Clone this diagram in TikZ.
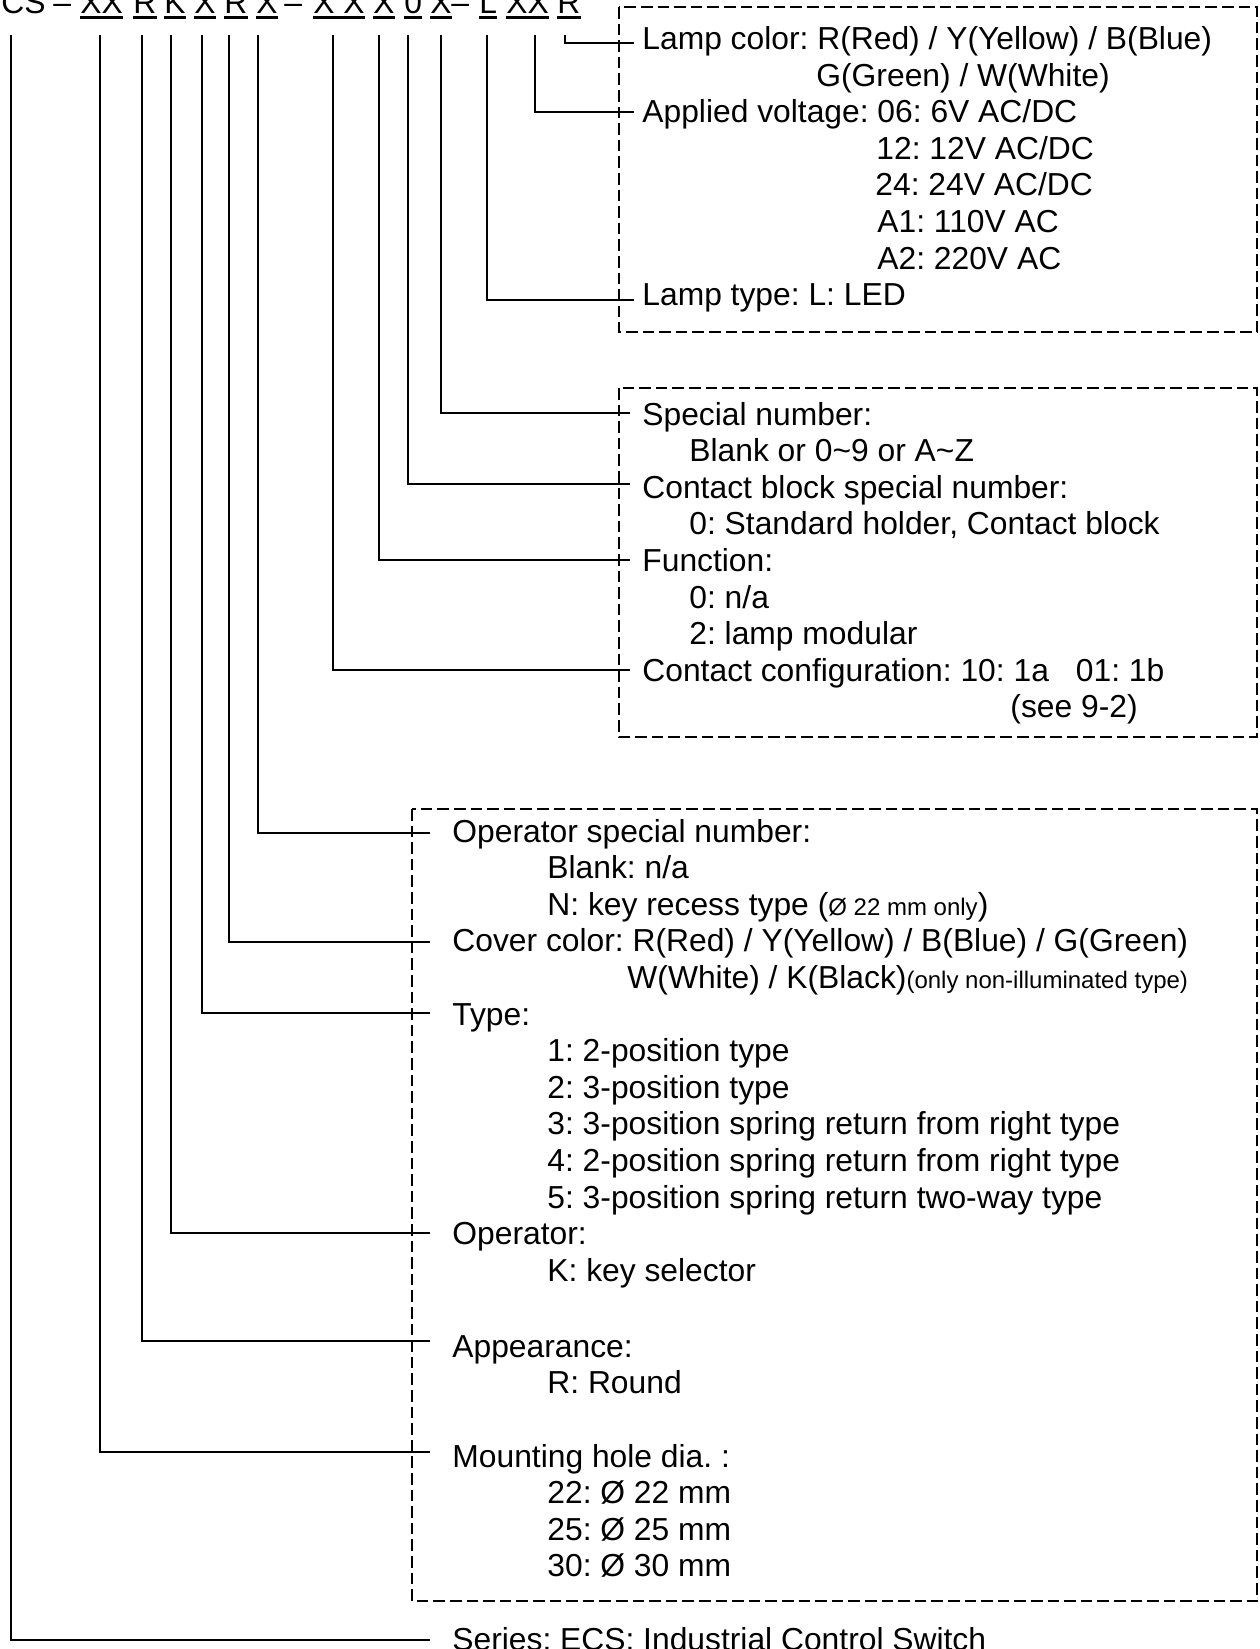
\documentclass[tikz,border=0pt]{standalone}
\usepackage{fontspec}
\setmainfont{Liberation Sans}
\frenchspacing
\newcommand{\smtxt}{\fontsize{12}{14}\selectfont}
\tikzset{
  txt/.style={anchor=base west, inner sep=0pt, font=\fontsize{15.9}{19}\selectfont},
  conn/.style={line width=1pt},
  dbox/.style={line width=1pt, dash pattern=on 5.8pt off 2.5pt},
  uline/.style={line width=1.4pt},
}
\begin{document}
\frenchspacing
\begin{tikzpicture}[x=0.5pt,y=-0.5pt]
\useasboundingbox (0,0) rectangle (1259,1649);
\clip (0,0) rectangle (1259,1649);

% ---------- header code ----------
\node[txt] (h0) at (1,13) {CS};
\node[txt] (d1) at (53,13) {–};
\node[txt] (h1) at (80,13) {XX};
\node[txt] (h2) at (133,13) {R};
\node[txt] (h3) at (164,13) {K};
\node[txt] (h4) at (194,13) {X};
\node[txt] (h5) at (224,13) {R};
\node[txt] (h6) at (256,13) {X};
\node[txt] (d2) at (284,13) {–};
\node[txt] (h7) at (313,13) {X X};
\node[txt] (h8) at (373,13) {X};
\node[txt] (h9) at (404,13) {0};
\node[txt] (h10) at (430,13) {X};
\node[txt] (d3) at (451,13) {–};
\node[txt] (h11) at (479,13) {L};
\node[txt] (h12) at (506,13) {XX};
\node[txt] (h13) at (557,13) {R};
\foreach \t in {h1,h2,h3,h4,h5,h6,h7,h8,h9,h10,h11,h12,h13}
  \draw[uline] ([yshift=-2.25pt]\t.base west) -- ([yshift=-2.25pt]\t.base east);

% ---------- boxes ----------
\draw[dbox] (619,7) rectangle (1257,332);
\draw[dbox] (619,388) rectangle (1257,737);
\draw[dbox] (412,809) rectangle (1257,1601);

% ---------- top box texts ----------
\node[txt] (lc)  at (642,49.5)  {Lamp color: R(Red) / Y(Yellow) / B(Blue)};
\node[txt] (lc2) at (816,86.1)  {G(Green) / W(White)};
\node[txt] (av)  at (642,122.7) {Applied voltage: 06: 6V AC/DC};
\node[txt] (av2) at (876,159.3) {12: 12V AC/DC};
\node[txt] (av3) at (875,195.9) {24: 24V AC/DC};
\node[txt] (av4) at (877,232.5) {A1: 110V AC};
\node[txt] (av5) at (877,269.1) {A2: 220V AC};
\node[txt] (lt)  at (642,305.7) {Lamp type: L: LED};

% ---------- middle box texts ----------
\node[txt] (sn)  at (642,425)   {Special number:};
\node[txt] (sn2) at (689,461.6) {Blank or 0\textasciitilde 9 or A\textasciitilde Z};
\node[txt] (cb)  at (642,498.2) {Contact block special number:};
\node[txt] (cb2) at (689,534.8) {0: Standard holder, Contact block};
\node[txt] (fn)  at (642,571.4) {Function:};
\node[txt] (fn2) at (689,608)   {0: n/a};
\node[txt] (fn3) at (689,644.6) {2: lamp modular};
\node[txt] (cc)  at (642,681.2) {Contact configuration: 10: 1a\hspace*{13.5pt}01: 1b};
\node[txt] (cc2) at (1010,717.8) {(see 9-2)};

% ---------- bottom box texts ----------
\node[txt] (os)  at (452,842)    {Operator special number:};
\node[txt] (os2) at (547,878.6)  {Blank: n/a};
\node[txt] (os3) at (547,915.2)  {N: key recess type ({\smtxt Ø 22 mm only})};
\node[txt] (cv)  at (452,951.8)  {Cover color: R(Red) / Y(Yellow) / B(Blue) / G(Green)};
\node[txt] (cv2) at (627,988.4)  {W(White) / K(Black){\smtxt (only non-illuminated type)}};
\node[txt] (ty)  at (452,1025)   {Type:};
\node[txt] (ty1) at (547,1061.6) {1: 2-position type};
\node[txt] (ty2) at (547,1098.2) {2: 3-position type};
\node[txt] (ty3) at (547,1134.8) {3: 3-position spring return from right type};
\node[txt] (ty4) at (547,1171.4) {4: 2-position spring return from right type};
\node[txt] (ty5) at (547,1208)   {5: 3-position spring return two-way type};
\node[txt] (op)  at (452,1244.6) {Operator:};
\node[txt] (op2) at (547,1281.2) {K: key selector};
\node[txt] (ap)  at (452,1357)   {Appearance:};
\node[txt] (ap2) at (547,1393.6) {R: Round};
\node[txt] (mh)  at (452,1467)   {Mounting hole dia. :};
\node[txt] (mh1) at (547,1503.6) {22: Ø 22 mm};
\node[txt] (mh2) at (547,1540.2) {25: Ø 25 mm};
\node[txt] (mh3) at (547,1576.8) {30: Ø 30 mm};
\node[txt] (se)  at (452,1650)   {Series: ECS: Industrial Control Switch};

% ---------- connectors ----------
\coordinate (s1) at (565,35);  \coordinate (e1) at (634,43);
\coordinate (s2) at (535,35);  \coordinate (e2) at (634,112);
\coordinate (s3) at (487,35);  \coordinate (e3) at (634,300);
\coordinate (s4) at (441,35);  \coordinate (e4) at (630,413);
\coordinate (s5) at (408,35);  \coordinate (e5) at (630,484);
\coordinate (s6) at (379,35);  \coordinate (e6) at (630,560);
\coordinate (s7) at (333,35);  \coordinate (e7) at (630,670);
\coordinate (s8) at (258,35);  \coordinate (e8) at (430,833);
\coordinate (s9) at (229,35);  \coordinate (e9) at (430,942);
\coordinate (s10) at (202,35); \coordinate (e10) at (430,1013);
\coordinate (s11) at (171,35); \coordinate (e11) at (430,1233);
\coordinate (s12) at (142,35); \coordinate (e12) at (430,1341);
\coordinate (s13) at (100,35); \coordinate (e13) at (430,1452);
\coordinate (s14) at (11,35);  \coordinate (e14) at (430,1640);
\foreach \i in {1,...,14}
  \draw[conn] (s\i) |- (e\i);
\end{tikzpicture}
\end{document}
